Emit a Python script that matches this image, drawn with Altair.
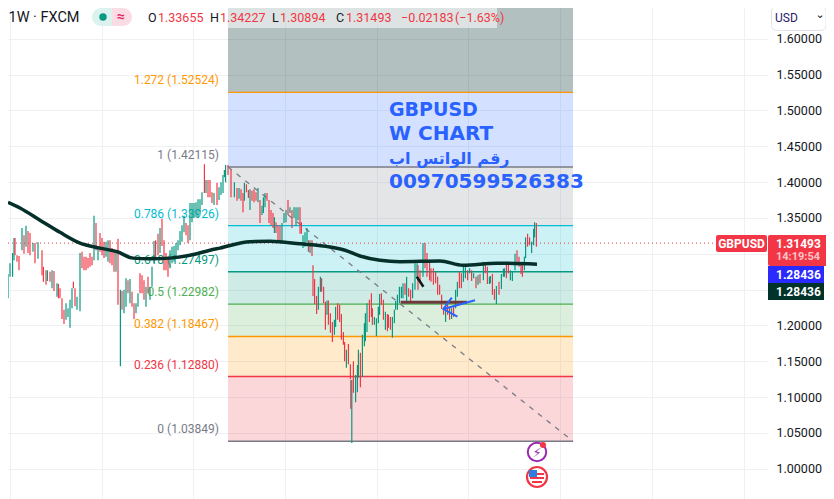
import altair as alt
import pandas as pd

UP, DOWN = "#089981", "#f23645"
DARK = "#00332a"
FONT = "Roboto"

y_ticks = [1.00, 1.05, 1.10, 1.15, 1.20, 1.25, 1.30, 1.35, 1.40, 1.45, 1.50, 1.55, 1.60]
x_grid = [5, 50.9, 96.7, 142.5, 188.4, 234.2, 280.1, 326, 372]

# fibonacci retracement
fib_ratio = ["0", "0.236", "0.382", "0.5", "0.618", "0.786", "1", "1.272"]
fib_price = [1.03849, 1.12880, 1.18467, 1.22982, 1.27497, 1.33926, 1.42115, 1.52524]
fib_upper = [1.12880, 1.18467, 1.22982, 1.27497, 1.33926, 1.42115, 1.52524, 1.643]
fib_line = ["#787b86", "#f23645", "#ff9800", "#4caf50", "#089981", "#00bcd4", "#787b86", "#ff9800"]
fib_text = ["#787b86", "#f23645", "#ff9800", "#4caf50", "#089981", "#00bcd4", "#787b86", "#ff9800"]
fib_fill = ["#f23645", "#ff9800", "#4caf50", "#089981", "#00bcd4", "#787b86", "#2962ff", "#00332a"]
fib_alpha = [0.2, 0.2, 0.2, 0.2, 0.2, 0.2, 0.2, 0.3]
fib_start, fib_end = 114, 286.5

# weekly bars: (week, high, low, direction)
bars_a = [(4,1.272,1.238,"u"),(5,1.287,1.268,"u"),(6.3,1.301,1.268,"u"),(7,1.322,1.291,"u"),(7.5,1.322,1.298,"d"),
(8.5,1.298,1.289,"d"),(9.5,1.297,1.277,"d"),(11,1.336,1.305,"u"),(12,1.326,1.300,"d"),(13,1.339,1.310,"u"),
(14,1.332,1.301,"d"),(15,1.329,1.298,"d"),(16.5,1.315,1.303,"u"),(17.5,1.315,1.287,"d"),(19,1.316,1.293,"u"),
(21,1.305,1.270,"d"),(21.7,1.282,1.261,"d"),(23,1.277,1.257,"d"),(23.7,1.277,1.262,"u"),(25,1.275,1.261,"d"),
(26,1.277,1.252,"u"),(27,1.276,1.248,"d"),(28.5,1.259,1.240,"u"),(29.2,1.258,1.238,"d"),(30,1.252,1.238,"d"),
(31,1.238,1.209,"d"),(32,1.222,1.202,"d"),(33,1.231,1.208,"u"),(34,1.224,1.212,"u"),(35,1.236,1.197,"u"),
(36,1.252,1.224,"u"),(36.7,1.261,1.252,"d"),(37.5,1.252,1.227,"d"),(38.5,1.240,1.222,"u"),(40,1.301,1.220,"u"),
(41,1.303,1.280,"d"),(42,1.296,1.277,"d"),(43,1.296,1.277,"d"),(44,1.294,1.280,"d"),(45,1.301,1.282,"d"),
(46,1.296,1.284,"d"),(47,1.353,1.291,"u"),(48,1.343,1.305,"d"),(49,1.310,1.291,"u"),(50,1.329,1.303,"d"),
(51,1.322,1.298,"d"),(52,1.317,1.294,"d"),(53,1.317,1.296,"u"),(54,1.319,1.289,"u"),(55,1.319,1.287,"d"),
(56,1.308,1.284,"d"),(57,1.305,1.275,"d"),(58,1.305,1.275,"u"),(59,1.321,1.229,"d")]
bars_b = [(60.2,1.250,1.143,"u"),(61,1.248,1.222,"d"),(62,1.250,1.217,"u"),(63,1.266,1.226,"u"),(64,1.263,1.245,"d"),
(65,1.265,1.231,"u"),(66,1.247,1.226,"d"),(67,1.231,1.209,"d"),(68,1.231,1.217,"u"),(69,1.245,1.226,"u"),
(70,1.273,1.245,"d"),(71,1.270,1.245,"d"),(72,1.263,1.236,"d"),(73,1.254,1.226,"u"),(74,1.268,1.245,"d"),
(75,1.254,1.236,"u"),(76,1.282,1.254,"u"),(77,1.318,1.287,"u"),(77.8,1.319,1.294,"d"),(79,1.328,1.298,"d"),
(80,1.336,1.301,"u"),(81,1.349,1.311,"d"),(82,1.319,1.277,"d"),(83,1.301,1.277,"d"),(84,1.296,1.268,"d"),
(85,1.305,1.280,"u"),(86,1.310,1.287,"u"),(87,1.311,1.289,"u"),(88,1.315,1.296,"u"),(89,1.319,1.305,"u"),
(90,1.332,1.312,"u"),(91,1.340,1.317,"u"),(92,1.353,1.330,"u"),(93,1.343,1.326,"d"),(94,1.340,1.315,"d"),
(95,1.371,1.319,"u"),(96,1.371,1.344,"u"),(97,1.371,1.350,"u"),(98,1.372,1.351,"u"),(99,1.376,1.350,"u"),
(100,1.376,1.358,"u"),(101,1.386,1.368,"u"),(102.2,1.425,1.385,"d"),(103,1.403,1.385,"u"),(104,1.403,1.379,"d"),
(105,1.403,1.379,"d"),(106,1.386,1.371,"d"),(107,1.385,1.368,"u"),(108.5,1.399,1.368,"d"),(109.5,1.393,1.375,"u"),
(110.5,1.400,1.382,"u"),(111.5,1.410,1.385,"u"),(112.2,1.417,1.407,"u"),(112.8,1.424,1.400,"u")]
bars_c = [(114,1.424,1.410,"d"),(115.5,1.417,1.379,"d"),(117.2,1.400,1.379,"u"),(118.5,1.392,1.374,"d"),(119.5,1.392,1.377,"u"),
(120.5,1.390,1.374,"d"),(121.5,1.385,1.358,"d"),(122.2,1.399,1.374,"u"),(123.2,1.397,1.386,"d"),(124.2,1.389,1.378,"d"),
(125,1.390,1.361,"u"),(126,1.388,1.374,"d"),(127,1.390,1.372,"d"),(128,1.386,1.374,"d"),(129,1.392,1.372,"u"),
(130,1.375,1.343,"d"),(131,1.367,1.354,"u"),(131.7,1.379,1.357,"u"),(132.5,1.385,1.365,"u"),(133.5,1.385,1.374,"d"),
(134.5,1.375,1.343,"d"),(135.5,1.361,1.340,"d"),(136.5,1.357,1.336,"d"),(137.2,1.351,1.329,"u"),(138,1.344,1.329,"d"),
(139,1.340,1.319,"d"),(140,1.339,1.317,"d"),(141,1.343,1.317,"u"),(142,1.357,1.343,"u"),(143,1.361,1.344,"u"),
(144,1.375,1.354,"d"),(145,1.365,1.357,"u"),(146,1.361,1.336,"d"),(147,1.365,1.350,"u"),(148,1.365,1.339,"u"),
(149,1.365,1.347,"u"),(150,1.365,1.328,"d"),(150.7,1.344,1.328,"d"),(151.5,1.326,1.308,"u"),(152.5,1.330,1.310,"u"),
(153.5,1.336,1.317,"u"),(154.2,1.319,1.303,"d"),(155,1.319,1.301,"u"),(156,1.319,1.297,"d")]
bars_d = [(156.5,1.284,1.241,"d"),(157.3,1.265,1.230,"d"),(158.3,1.241,1.216,"d"),(159.2,1.254,1.222,"u"),(160.2,1.268,1.247,"u"),
(160.8,1.266,1.247,"d"),(161.8,1.254,1.231,"d"),(162.7,1.233,1.194,"d"),(163.5,1.235,1.215,"u"),(164.2,1.235,1.201,"d"),
(165.2,1.217,1.190,"d"),(166.2,1.205,1.177,"d"),(167.2,1.208,1.187,"u"),(167.8,1.226,1.198,"u"),(168.8,1.231,1.208,"d"),
(169.8,1.229,1.205,"d"),(170.7,1.216,1.180,"d"),(171.7,1.191,1.173,"d"),(172.3,1.177,1.150,"d"),(173.2,1.166,1.141,"u"),
(174.2,1.174,1.146,"d"),(175.2,1.146,1.125,"d"),(175.4,1.124,1.084,"d"),(175.9,1.124,1.036,"u"),(176.7,1.150,1.106,"d"),
(177.8,1.131,1.093,"u"),(178.7,1.145,1.107,"u"),(179.2,1.166,1.127,"u"),(180.2,1.162,1.114,"d"),(181.2,1.187,1.128,"u"),
(182.2,1.203,1.171,"u"),(182.7,1.217,1.178,"u"),(183.5,1.231,1.191,"u"),(184.7,1.236,1.205,"d"),(185.7,1.245,1.212,"d"),
(186.2,1.224,1.201,"d"),(187.2,1.212,1.201,"u"),(188.2,1.210,1.185,"u"),(189.2,1.226,1.203,"u"),(189.8,1.244,1.215,"u"),
(190.7,1.245,1.229,"d"),(191.7,1.236,1.208,"d"),(192.7,1.219,1.194,"u"),(193.7,1.216,1.192,"d"),(194.2,1.215,1.197,"d"),
(195.2,1.212,1.194,"d"),(196.2,1.212,1.183,"u"),(197.2,1.222,1.203,"u"),(197.8,1.234,1.222,"u"),(198.7,1.243,1.222,"u"),
(199.7,1.254,1.231,"u"),(200.7,1.254,1.238,"u"),(201.5,1.259,1.238,"u"),(202.5,1.259,1.243,"d"),(203.3,1.268,1.233,"u")]
bars_e = [(204.3,1.252,1.240,"d"),(205.3,1.250,1.231,"d"),(206.3,1.259,1.238,"u"),(207.5,1.287,1.250,"u"),(208.5,1.287,1.268,"u"),
(209,1.284,1.250,"d"),(210,1.277,1.261,"d"),(211.5,1.315,1.268,"u"),(212.5,1.315,1.280,"d"),(213.5,1.301,1.268,"d"),
(214.8,1.289,1.263,"d"),(215.5,1.280,1.261,"d"),(216.7,1.280,1.257,"d"),(217.8,1.275,1.259,"d"),(218.8,1.268,1.243,"d"),
(219.8,1.257,1.243,"d"),(220.8,1.243,1.223,"d"),(221.8,1.224,1.215,"d"),(222.8,1.226,1.205,"u"),(223.8,1.229,1.215,"d"),
(224.8,1.226,1.208,"d"),(225.8,1.224,1.209,"u"),(226.8,1.226,1.212,"d"),(227.8,1.250,1.224,"u"),(228.7,1.261,1.240,"u"),
(229.7,1.275,1.252,"d"),(230.7,1.273,1.252,"d"),(231.7,1.282,1.261,"u"),(232.7,1.282,1.266,"u")]
bars_f = [(233.8,1.277,1.263,"d"),(234.8,1.280,1.273,"u"),(235.8,1.277,1.262,"d"),(236.8,1.273,1.266,"u"),(238,1.268,1.252,"d"),
(239,1.270,1.257,"u"),(240,1.272,1.259,"d"),(241.7,1.289,1.263,"u"),(242.7,1.287,1.273,"d"),(243.7,1.282,1.258,"d"),
(244.7,1.268,1.258,"u"),(245.2,1.269,1.259,"u"),(246.2,1.272,1.243,"d"),(247.2,1.251,1.236,"d"),(248.2,1.255,1.230,"u"),
(249.5,1.261,1.243,"d"),(250.7,1.272,1.251,"u"),(251.7,1.279,1.268,"u"),(252.2,1.280,1.268,"u"),(253.2,1.287,1.266,"d"),
(254.2,1.287,1.273,"d"),(255.2,1.277,1.263,"u"),(256.2,1.275,1.262,"u"),(257.5,1.300,1.277,"u"),(258.5,1.305,1.284,"d"),
(259.5,1.296,1.282,"d"),(260.5,1.287,1.272,"d"),(261.2,1.284,1.268,"d"),(262.2,1.296,1.277,"u"),(262.8,1.323,1.294,"u"),
(263.8,1.328,1.310,"d"),(264.8,1.323,1.312,"d"),(265.8,1.317,1.301,"u"),(266.8,1.335,1.312,"u"),(267.3,1.344,1.323,"u"),
(268.2,1.343,1.310,"d")]

ma_week = [4, 10, 20, 30, 40, 50, 58.5, 66.5, 75, 85, 95, 105, 110, 125, 135, 150, 165, 172.5, 180, 190, 200, 220, 231.5, 248.5, 268.5]
ma_price = [1.372, 1.364, 1.347, 1.330, 1.315, 1.308, 1.303, 1.294, 1.293, 1.294, 1.298, 1.305, 1.308, 1.317, 1.3175, 1.314, 1.3095, 1.305, 1.297, 1.291, 1.289, 1.290, 1.284, 1.287, 1.2855]

last_price = 1.31493

note_lines = ["GBPUSD", "W CHART", "رقم الواتس اب", "00970599526383"]
note_price = [1.5007, 1.4672, 1.4323, 1.4002]
note_size = [19, 20, 16, 20]

ohlc_text = ["O", "1.33655", "H", "1.34227", "L", "1.30894", "C", "1.31493", "−0.02183", "(−1.63%)"]
ohlc_left = [148, 158, 210, 220, 272, 280, 336, 346, 401, 455]
ohlc_colour = ["#131722", DOWN, "#131722", DOWN, "#131722", DOWN, "#131722", DOWN, DOWN, DOWN]

xs = alt.Scale(domain=[4, 383.5], nice=False, zero=False)
ys = alt.Scale(domain=[0.9579, 1.6430], nice=False, zero=False)


def X(f="week"):
    return alt.X(f"{f}:Q", scale=xs, axis=None, title=None)


def Y(f="price"):
    return alt.Y(f"{f}:Q", scale=ys, axis=None, title=None)


ONE = pd.DataFrame({"a": [0]})


def px(x):
    return alt.value(x - 8)


def py(y):
    return alt.value(y - 8)


def box(x1, y1, x2, y2, colour, **mark):
    return alt.Chart(ONE).mark_rect(color=colour, **mark).encode(x=px(x1), x2=px(x2), y=py(y1), y2=py(y2))


def label(text, x, y, colour, size=12.5, align="left", weight="normal", font=FONT, opacity=1.0):
    return alt.Chart(pd.DataFrame({"t": [text]})).mark_text(
        align=align, baseline="middle", fontSize=size, color=colour, fontWeight=weight, font=font, opacity=opacity
    ).encode(x=px(x), y=py(y), text="t:N")


fib = pd.DataFrame({
    "ratio": fib_ratio, "price": fib_price, "upper": fib_upper, "line": fib_line, "text_c": fib_text,
    "fill": fib_fill, "alpha": fib_alpha, "start": fib_start, "end": fib_end,
})
fib["label"] = [f"{r} ({p:.5f})" for r, p in zip(fib_ratio, fib_price)]
fib["text_w"] = 109.5

# base layer holds the axes and the bands
zones = alt.Chart(fib).mark_rect().encode(
    x=alt.X("start:Q", scale=xs, title=None,
            axis=alt.Axis(values=x_grid, labels=False, ticks=False, domain=False, grid=True,
                          gridColor="#eef0f4", title=None)),
    x2="end:Q",
    y=alt.Y("price:Q", scale=ys, title=None,
            axis=alt.Axis(orient="right", values=y_ticks, labelFontSize=12.5, labelColor="#131722",
                          labelExpr="(datum.value > 1.24 && datum.value < 1.31) ? '' : format(datum.value, '.5f')",
                          labelFont=FONT, ticks=False, domain=False, grid=True, gridColor="#eef0f4",
                          labelPadding=9, labelOverlap=False, title=None)),
    y2="upper:Q",
    color=alt.Color("fill:N", scale=None),
    opacity=alt.Opacity("alpha:Q", scale=None),
)
levels = alt.Chart(fib).mark_rule(strokeWidth=1.3).encode(
    x=X("start"), x2="end:Q", y=Y(), color=alt.Color("line:N", scale=None)
)
fib_labels = alt.Chart(fib).mark_text(align="right", baseline="middle", dy=-12, fontSize=12, font=FONT).encode(
    x=X("text_w"), y=Y(), text="label:N", color=alt.Color("text_c:N", scale=None)
)
diag = alt.Chart(pd.DataFrame({"week": [fib_start, fib_end], "price": [1.42115, 1.03849]})).mark_line(
    color="#787b86", strokeWidth=1.3, strokeDash=[5, 6]
).encode(x=X(), y=Y())
price_line = alt.Chart(pd.DataFrame({"week": [0, 358], "price": [last_price, last_price]})).mark_line(
    color=DOWN, strokeWidth=1, strokeDash=[1, 3]
).encode(x=X(), y=Y())

rows = bars_a + bars_b + bars_c + bars_d + bars_e + bars_f
bars = pd.DataFrame(rows, columns=["week", "high", "low", "dir"])
candles = alt.Chart(bars).mark_rule(strokeWidth=1.2).encode(
    x=X(), y=Y("high"), y2="low:Q",
    color=alt.Color("dir:N", scale=alt.Scale(domain=["u", "d"], range=[UP, DOWN]), legend=None),
)
ma = alt.Chart(pd.DataFrame({"week": ma_week, "price": ma_price})).mark_line(
    color="#05302a", strokeWidth=3.5, interpolate="monotone"
).encode(x=X(), y=Y())

brown = alt.Chart(pd.DataFrame({"week": [200.3, 233.5], "price": [1.2324, 1.2324]})).mark_line(
    color="#6d3b3b", strokeWidth=3
).encode(x=X(), y=Y())
black_tick = alt.Chart(pd.DataFrame({"week": [208.4, 211.7], "price": [1.268, 1.254]})).mark_line(
    color="#0c1a18", strokeWidth=2.5
).encode(x=X(), y=Y())
arrow_shaft = alt.Chart(pd.DataFrame({"week": [237.5, 221.7], "price": [1.2352, 1.223]})).mark_line(
    color="#2962ff", strokeWidth=2
).encode(x=X(), y=Y())
arrow_head = alt.Chart(pd.DataFrame({"i": [0, 1, 2], "week": [225.9, 221.7, 228.7], "price": [1.2388, 1.223, 1.2123]})).mark_line(
    color="#2962ff", strokeWidth=2
).encode(x=X(), y=Y(), order="i:Q")

notes = alt.Chart(pd.DataFrame({"t": note_lines, "price": note_price, "week": 194.5, "s": note_size})).mark_text(
    align="left", baseline="middle", fontWeight="bold", font="DejaVu Sans", color="#2962ff"
).encode(x=X(), y=Y(), text="t:N", size=alt.Size("s:Q", scale=None, legend=None))

layers = [zones, levels, fib_labels, diag, price_line, candles, ma, brown, black_tick, arrow_shaft, arrow_head, notes]

# legend strip
layers.append(box(143, 5, 497, 28, "#ffffff", opacity=0.55))
layers.append(label("1W · FXCM", 8.5, 18, "#131722", size=14.5))
layers.append(box(92, 8, 112, 26, "#dcf2ee", cornerRadiusTopLeft=9, cornerRadiusBottomLeft=9))
layers.append(box(112, 8, 132, 26, "#fbdce5", cornerRadiusTopRight=9, cornerRadiusBottomRight=9))
layers.append(alt.Chart(ONE).mark_point(filled=True, size=55, color=UP, opacity=1).encode(x=px(103), y=py(17)))
layers.append(label("≈", 121, 17, "#e91e63", size=14, align="center", weight="bold"))
layers.append(alt.Chart(pd.DataFrame({"t": ohlc_text, "x": [v - 8 for v in ohlc_left], "c": ohlc_colour})).mark_text(
    align="left", baseline="middle", fontSize=12.5, font=FONT
).encode(x=alt.X("x:Q", scale=None, axis=None), y=py(18), text="t:N", color=alt.Color("c:N", scale=None)))

# currency selector
layers.append(box(771.5, 6, 826, 30.5, "#ffffff", stroke="#e0e3eb", strokeWidth=1, cornerRadius=5))
layers.append(label("USD", 775, 18, "#2a1a6b", size=12))
layers.append(label("⌄", 820, 15, "#131722", size=11, align="center", font="DejaVu Sans"))

# price tags
layers.append(box(716, 235, 767, 252, DOWN, cornerRadius=2))
layers.append(label("GBPUSD", 741.5, 244, "#ffffff", size=12, align="center", weight="bold"))
layers.append(box(768, 235, 828, 266, DOWN, cornerRadius=2))
layers.append(label("1.31493", 776, 243.5, "#ffffff", size=12, weight="bold"))
layers.append(label("14:19:54", 776, 257, "#ffffff", size=11, weight="bold", opacity=0.7))
layers.append(box(768, 266, 824, 283, "#2a2aff"))
layers.append(label("1.28436", 776, 275, "#ffffff", size=12, weight="bold"))
layers.append(box(768, 283, 824, 300, DARK))
layers.append(label("1.28436", 776, 292, "#ffffff", size=12, weight="bold"))

# event icons
layers.append(alt.Chart(ONE).mark_point(size=340, fill="#ffffff", filled=True, stroke="#9c27b0", strokeWidth=2, opacity=1).encode(x=px(537), y=py(452)))
layers.append(label("⚡", 537, 453, "#9c27b0", size=13, align="center", font="DejaVu Sans"))
layers.append(alt.Chart(ONE).mark_point(size=36, filled=True, color=DOWN, opacity=1).encode(x=px(543), y=py(445)))
layers.append(alt.Chart(ONE).mark_point(size=400, fill="#ffffff", filled=True, stroke=DOWN, strokeWidth=2.2, opacity=1).encode(x=px(537), y=py(477)))
layers.append(box(530, 473, 544, 475, DOWN))
layers.append(box(530, 477, 544, 479, DOWN))
layers.append(box(532, 481, 542, 483, DOWN))
layers.append(box(529, 470, 537, 477, "#2f7de1"))

chart = alt.layer(*layers).properties(
    width=759, height=491, autosize="none",
    padding={"left": 0, "top": 0, "right": 59, "bottom": 0},
    background="#ffffff",
).resolve_axis(x="independent", y="independent").configure_view(stroke=None)

chart.save("out.html", embed_options={"renderer": "svg", "actions": False})
